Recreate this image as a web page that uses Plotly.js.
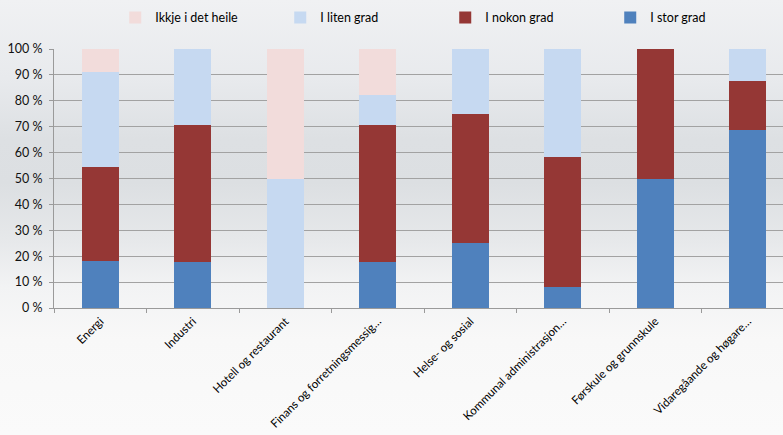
<!DOCTYPE html>
<html>
<head>
<meta charset="utf-8">
<script src="https://cdn.plot.ly/plotly-3.0.1.min.js"></script>
<style>
  html, body { margin: 0; padding: 0; overflow: hidden; }
  body {
    width: 783px; height: 435px;
    background: linear-gradient(to bottom,
      #f0f1f3 0%, #e8eaed 18%, #dde0e3 32%, #dcdfe2 42%,
      #e6e8ea 55%, #f2f3f4 66%, #f8f8f8 78%, #fafafa 100%);
  }
  #chart { width: 783px; height: 435px; }
</style>
</head>
<body>
<div id="chart"></div>
<script>
// Sectors (x-axis categories)
const categories = [
  "Energi",
  "Industri",
  "Hotell og restaurant",
  "Finans og forretningsmessig…",
  "Helse- og sosial",
  "Kommunal administrasjon…",
  "Førskule og grunnskule",
  "Vidaregåande og høgare…"
];

// Share of answers per sector, in percent
const storGrad   = [18.2, 17.6, 0,    17.6, 25, 8.3,  50, 68.75];
const nokonGrad  = [36.4, 52.9, 0,    52.9, 50, 50.0, 50, 18.75];
const litenGrad  = [36.4, 29.4, 50,   11.8, 25, 41.7, 0,  12.5];
const ikkjeHeile = [9.1,  0,    50,   17.6, 0,  0,    0,  0];

const yTicks = [0, 10, 20, 30, 40, 50, 60, 70, 80, 90, 100];

const font = "Lato, 'Open Sans', sans-serif";

function series(name, values, color) {
  return {
    type: "bar",
    name: name,
    x: categories,
    y: values,
    marker: { color: color, line: { width: 0 } },
    hoverinfo: "x+y+name"
  };
}

const data = [
  series("I stor grad", storGrad, "#4f81bd"),
  series("I nokon grad", nokonGrad, "#953735"),
  series("I liten grad", litenGrad, "#c6d9f1"),
  series("Ikkje i det heile", ikkjeHeile, "#f2dcdb")
];

const layout = {
  width: 783,
  height: 435,
  margin: { l: 54, r: 0, t: 49, b: 127, pad: 0, autoexpand: false },
  paper_bgcolor: "rgba(0,0,0,0)",
  plot_bgcolor: "rgba(0,0,0,0)",
  barmode: "stack",
  bargap: 0.6,
  font: { family: font, size: 12, color: "#111" },
  showlegend: true,
  legend: {
    orientation: "h",
    traceorder: "reversed",
    x: 0.084,
    xanchor: "left",
    y: 1.12,
    yanchor: "middle",
    entrywidthmode: "pixels",
    entrywidth: 120,
    itemwidth: 30,
    font: { family: font, size: 12.5, color: "#000" },
    bgcolor: "rgba(0,0,0,0)"
  },
  xaxis: {
    type: "category",
    range: [-0.5, 7.38],
    tickangle: -45,
    ticks: "outside",
    tickson: "boundaries",
    ticklen: 4,
    tickcolor: "#9a9a9a",
    ticklabelstandoff: 1,
    showline: true,
    linecolor: "#9a9a9a",
    linewidth: 1,
    showgrid: false,
    tickfont: { family: font, size: 11.6, color: "#000" },
    fixedrange: true
  },
  yaxis: {
    range: [0, 100],
    tickvals: yTicks,
    ticktext: yTicks.map(v => v + " %"),
    ticks: "outside",
    ticklen: 4,
    tickcolor: "#9a9a9a",
    ticklabelstandoff: 4,
    showline: true,
    linecolor: "#9a9a9a",
    linewidth: 1,
    showgrid: true,
    gridcolor: "#a2a2a2",
    gridwidth: 1,
    zeroline: false,
    tickfont: { family: font, size: 12.5, color: "#111" },
    fixedrange: true
  }
};

Plotly.newPlot("chart", data, layout, { displayModeBar: false, staticPlot: true });
</script>
</body>
</html>
